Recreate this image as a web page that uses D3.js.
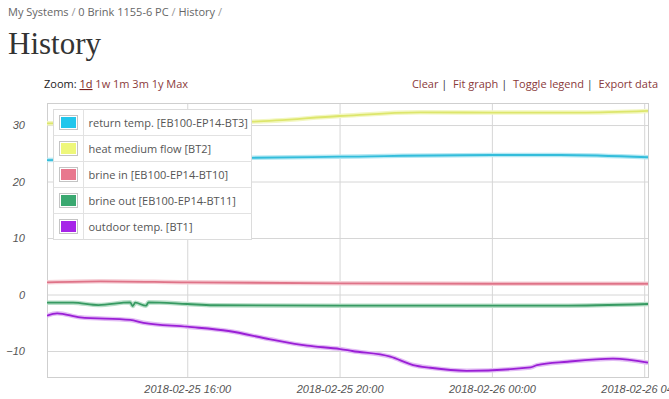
<!DOCTYPE html>
<html>
<head>
<meta charset="utf-8">
<script src="https://cdn.jsdelivr.net/npm/d3@7"></script>
<style>
  body { margin: 0; background: #fff; }
  svg { display: block; font-family: "Open Sans", sans-serif; }
</style>
</head>
<body>
<script>

// ---- data ----
var seriesNames = ["return temp. [EB100-EP14-BT3]", "heat medium flow [BT2]",
  "brine in [EB100-EP14-BT10]", "brine out [EB100-EP14-BT11]", "outdoor temp. [BT1]"];

var returnTimes = ["2018-02-25 12:19", "2018-02-25 16:00", "2018-02-25 17:41", "2018-02-25 20:00",
  "2018-02-26 00:00", "2018-02-26 01:48", "2018-02-26 04:06"];
var returnValues = [23.8, 24.1, 24.2, 24.4, 24.7, 24.7, 24.3];

var flowTimes = ["2018-02-25 12:19", "2018-02-25 17:41", "2018-02-25 20:00", "2018-02-25 22:07",
  "2018-02-26 00:00", "2018-02-26 02:19", "2018-02-26 04:06"];
var flowValues = [30.3, 30.6, 31.6, 32.25, 32.2, 32.2, 32.5];

var brineInTimes = ["2018-02-25 12:19", "2018-02-25 13:43", "2018-02-25 16:00", "2018-02-25 20:00",
  "2018-02-26 00:00", "2018-02-26 04:06"];
var brineInValues = [2.16, 2.34, 2.16, 1.98, 1.91, 1.91];

var brineOutTimes = ["2018-02-25 12:19", "2018-02-25 13:00", "2018-02-25 13:40", "2018-02-25 14:30",
  "2018-02-25 14:34", "2018-02-25 14:38", "2018-02-25 14:55", "2018-02-25 14:59",
  "2018-02-25 16:00", "2018-02-25 16:41", "2018-02-25 20:00", "2018-02-26 01:48", "2018-02-26 04:06"];
var brineOutValues = [-1.45, -1.45, -1.86, -1.38, -2.04, -1.45, -1.98, -1.38,
  -1.68, -1.9, -1.98, -1.98, -1.68];

var outdoorTimes = ["2018-02-25 12:19", "2018-02-25 12:35", "2018-02-25 13:11", "2018-02-25 14:30",
  "2018-02-25 14:51", "2018-02-25 16:00", "2018-02-25 17:05", "2018-02-25 18:11",
  "2018-02-25 19:09", "2018-02-25 20:01", "2018-02-25 20:20", "2018-02-25 21:20",
  "2018-02-25 21:56", "2018-02-25 22:23", "2018-02-25 23:20", "2018-02-26 01:01",
  "2018-02-26 01:11", "2018-02-26 01:59", "2018-02-26 03:11", "2018-02-26 04:06"];
var outdoorValues = [-3.75, -3.33, -4.04, -4.5, -5.0, -5.7, -6.46, -7.93, -9.06, -9.65,
  -10.0, -11.0, -12.48, -12.96, -13.5, -12.9, -12.5, -11.9, -11.36, -12.07];

var xTickLabels = ["2018-02-25 16:00", "2018-02-25 20:00", "2018-02-26 00:00", "2018-02-26 04:00"];
var yTickValues = [-10, 0, 10, 20, 30];
var xRange = ["2018-02-25 12:19", "2018-02-26 04:06"];
var yRange = [-14.6, 33.9];

// colors: line, halo, legend swatch
var lineColors = ["#33bddb", "#dde66c", "#df7388", "#379a62", "#9a1fd6"];
var haloColors = ["#b4e8f3", "#f3f7c2", "#f6d0d7", "#b8dfc8", "#e2bcf4"];
var swatchColors = ["#22c6ec", "#eef77a", "#e8788e", "#3aa870", "#a624e8"];

// ---- layout ----
var W = 669, H = 399;
var plot = {left: 47, right: 648, top: 103, bottom: 377};

var parse = d3.timeParse("%Y-%m-%d %H:%M");
var fmt = d3.timeFormat("%Y-%m-%d %H:%M");

var svg = d3.select("body").append("svg")
    .attr("width", W)
    .attr("height", H);

var x = d3.scaleTime()
    .domain(xRange.map(parse))
    .range([plot.left, plot.right]);

var y = d3.scaleLinear()
    .domain(yRange)
    .range([plot.bottom, plot.top]);

// grid + tick labels
var xAxis = d3.axisBottom(x)
    .tickValues(xTickLabels.map(parse))
    .tickFormat(fmt)
    .tickSize(-(plot.bottom - plot.top))
    .tickPadding(8);

var yAxis = d3.axisLeft(y)
    .tickValues(yTickValues)
    .tickSize(-(plot.right - plot.left))
    .tickPadding(22);

var gx = svg.append("g")
    .attr("transform", "translate(0," + plot.bottom + ")")
    .call(xAxis);
var gy = svg.append("g")
    .attr("transform", "translate(" + plot.left + ",0)")
    .call(yAxis);

[gx, gy].forEach(function (g) {
  g.select(".domain").remove();
  g.selectAll(".tick line").attr("stroke", "#d6d6d6");
  g.selectAll(".tick text")
    .attr("fill", "#555")
    .style("font-family", "'Liberation Sans', sans-serif")
    .style("font-style", "italic")
    .style("font-size", "11px");
});

// frame
svg.append("rect")
    .attr("x", plot.left + 0.5)
    .attr("y", plot.top + 0.5)
    .attr("width", plot.right - plot.left)
    .attr("height", plot.bottom - plot.top)
    .attr("fill", "none")
    .attr("stroke", "#cfcfcf");

svg.append("clipPath").attr("id", "clip")
  .append("rect")
    .attr("x", plot.left)
    .attr("y", plot.top)
    .attr("width", plot.right - plot.left + 1)
    .attr("height", plot.bottom - plot.top);

var series = [
  [returnTimes, returnValues],
  [flowTimes, flowValues],
  [brineInTimes, brineInValues],
  [brineOutTimes, brineOutValues],
  [outdoorTimes, outdoorValues]
].map(function (s) {
  return s[0].map(function (t, j) { return {t: parse(t), v: s[1][j]}; });
});

var line = d3.line()
    .x(function (d) { return x(d.t); })
    .y(function (d) { return y(d.v); })
    .curve(d3.curveMonotoneX);

var lines = svg.append("g").attr("clip-path", "url(#clip)");

// soft halo under every line, then the line itself
lines.selectAll(".halo")
  .data(series)
  .enter().append("path")
    .attr("class", "halo")
    .attr("d", line)
    .attr("fill", "none")
    .attr("stroke", function (d, i) { return haloColors[i]; })
    .attr("stroke-width", 4.5)
    .attr("stroke-linejoin", "round");

lines.selectAll(".line")
  .data(series)
  .enter().append("path")
    .attr("class", "line")
    .attr("d", line)
    .attr("fill", "none")
    .attr("stroke", function (d, i) { return lineColors[i]; })
    .attr("stroke-width", 1.8)
    .attr("stroke-linejoin", "round");

// legend
var rowH = 26;
var legend = svg.append("g").attr("transform", "translate(53.5,109.5)");

legend.append("rect")
    .attr("width", 198)
    .attr("height", rowH * seriesNames.length)
    .attr("fill", "#fff")
    .attr("stroke", "#dcdcdc");

legend.append("line")
    .attr("x1", 30).attr("x2", 30)
    .attr("y1", 0).attr("y2", rowH * seriesNames.length)
    .attr("stroke", "#e2e2e2");

var rows = legend.selectAll(".row")
  .data(seriesNames)
  .enter().append("g")
    .attr("class", "row")
    .attr("transform", function (d, i) { return "translate(0," + i * rowH + ")"; });

rows.filter(function (d, i) { return i > 0; })
  .append("line")
    .attr("x1", 0).attr("x2", 198)
    .attr("stroke", "#e2e2e2");

rows.append("rect")
    .attr("x", 6).attr("y", 6)
    .attr("width", 18).attr("height", 14)
    .attr("fill", "#fff")
    .attr("stroke", "#c4c4c4");

rows.append("rect")
    .attr("x", 7.5).attr("y", 7.5)
    .attr("width", 15).attr("height", 11)
    .attr("fill", function (d, i) { return swatchColors[i]; });

rows.append("text")
    .attr("x", 35)
    .attr("y", 17)
    .attr("fill", "#555")
    .style("font-size", "11px")
    .text(function (d) { return d; });

// page header
var crumb = svg.append("text")
    .attr("x", 8).attr("y", 16)
    .style("font-size", "11px")
    .style("white-space", "pre")
    .attr("fill", "#666");
crumb.append("tspan").text("My Systems ");
crumb.append("tspan").attr("fill", "#999").text("/");
crumb.append("tspan").text(" 0 Brink 1155-6 PC ");
crumb.append("tspan").attr("fill", "#999").text("/");
crumb.append("tspan").text(" History ");
crumb.append("tspan").attr("fill", "#999").text("/");

svg.append("text")
    .attr("x", 8).attr("y", 54)
    .attr("fill", "#333")
    .style("font-family", "'Liberation Serif', serif")
    .style("font-size", "31px")
    .text("History");

var zoom = svg.append("text")
    .attr("x", 44).attr("y", 88)
    .style("font-size", "11px")
    .attr("fill", "#222");
zoom.append("tspan").text("Zoom: ");
zoom.append("tspan").attr("fill", "#7a1f1f").style("text-decoration", "underline").text("1d");
zoom.append("tspan").attr("fill", "#8a3a3a").text(" 1w 1m 3m 1y Max");

var tools = svg.append("text")
    .attr("x", 658).attr("y", 88)
    .attr("text-anchor", "end")
    .style("font-size", "11px")
    .style("white-space", "pre")
    .attr("fill", "#8a3a3a");
tools.append("tspan").text("Clear ");
tools.append("tspan").attr("fill", "#333").text("|");
tools.append("tspan").text("  Fit graph ");
tools.append("tspan").attr("fill", "#333").text("|");
tools.append("tspan").text("  Toggle legend ");
tools.append("tspan").attr("fill", "#333").text("|");
tools.append("tspan").text("  Export data");

</script>
</body>
</html>
